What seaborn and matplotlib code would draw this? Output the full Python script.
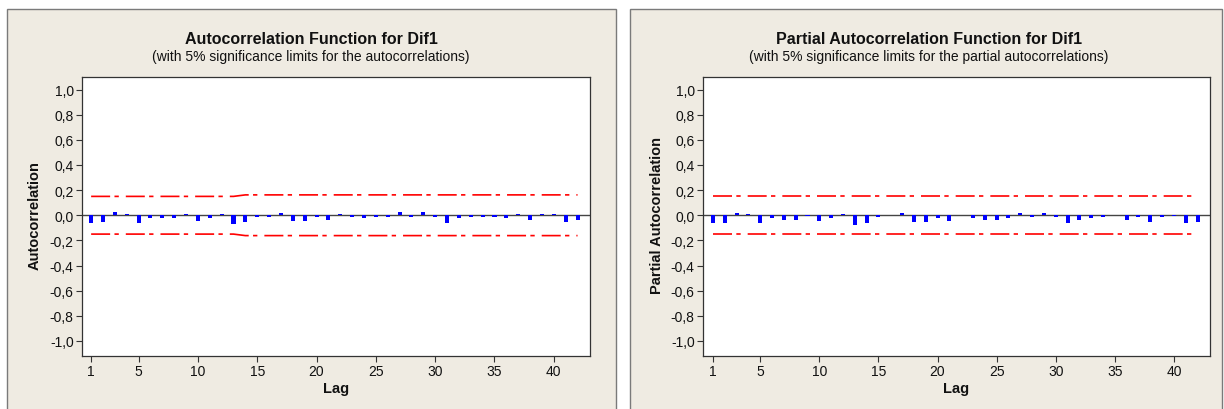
import numpy as np
import pandas as pd
import matplotlib
matplotlib.use("Agg")
import matplotlib.pyplot as plt
from matplotlib.patches import Rectangle
from matplotlib.ticker import FuncFormatter
import seaborn as sns

# values (lags 1..42)
lags = list(range(1, 43))

acf_vals = [-0.060, -0.055, 0.025, 0.010, -0.060, -0.020, -0.025, -0.025, 0.010, -0.045,
            -0.020, 0.010, -0.070, -0.055, -0.010, -0.010, 0.020, -0.045, -0.045, -0.010,
            -0.035, 0.010, -0.015, -0.025, -0.015, -0.015, 0.025, -0.015, 0.025, -0.010,
            -0.060, -0.025, -0.010, -0.010, -0.010, -0.025, 0.010, -0.035, 0.010, 0.010,
            -0.050, -0.035]

pacf_vals = [-0.060, -0.060, 0.015, 0.010, -0.060, -0.025, -0.035, -0.035, -0.003, -0.045,
             -0.025, 0.010, -0.075, -0.060, -0.015, 0.003, 0.015, -0.050, -0.050, -0.025,
             -0.045, 0.003, -0.025, -0.040, -0.035, -0.020, 0.020, -0.015, 0.020, -0.015,
             -0.065, -0.040, -0.020, -0.015, 0.003, -0.040, -0.015, -0.050, -0.015, -0.003,
             -0.060, -0.050]

# 5% significance limits (upper; lower is the negative)
acf_limit = [0.150] * 13 + [0.162] * 29
pacf_limit = [0.150] * 42

y_ticks = [-1.0, -0.8, -0.6, -0.4, -0.2, 0.0, 0.2, 0.4, 0.6, 0.8, 1.0]
x_ticks = [1, 5, 10, 15, 20, 25, 30, 35, 40]

titles = ["Autocorrelation Function for Dif1",
          "Partial Autocorrelation Function for Dif1"]
subtitles = ["(with 5% significance limits for the autocorrelations)",
             "(with 5% significance limits for the partial autocorrelations)"]
ylabels = ["Autocorrelation", "Partial Autocorrelation"]

sns.set_theme(style="white")
plt.rcParams['font.family'] = ['Liberation Sans', 'DejaVu Sans']

PANEL = "#EFEBE2"
DARK = "#333333"

fig = plt.figure(figsize=(12.24, 4.10), dpi=100)
fig.patch.set_facecolor("white")

# beige panels behind each chart
panel_boxes = [(7, 616), (630, 1222)]
for x0, x1 in panel_boxes:
    fig.patches.append(Rectangle((x0 / 1224, -0.01), (x1 - x0) / 1224, 1 - 10 / 410 + 0.01,
                                 transform=fig.transFigure, facecolor=PANEL,
                                 edgecolor="#7a7a7a", linewidth=1.0, zorder=-5))

ax_boxes = [(82, 590, 0.23), (703, 1210, 0.16)]
series = [acf_vals, pacf_vals]
limits = [acf_limit, pacf_limit]

for i, (x0, x1, xmin) in enumerate(ax_boxes):
    ax = fig.add_axes([x0 / 1224, 1 - 357 / 410, (x1 - x0) / 1224, (357 - 78) / 410])
    ax.set_facecolor("white")

    df = pd.DataFrame({"lag": lags, "val": series[i],
                       "up": limits[i], "lo": [-v for v in limits[i]]})

    ax.axhline(0, color="#444444", lw=1.0, zorder=1)
    sns.barplot(data=df, x="lag", y="val", native_scale=True, width=0.34,
                color="#0000FF", saturation=1, linewidth=0, ax=ax, zorder=2)
    for col in ["up", "lo"]:
        sns.lineplot(data=df, x="lag", y=col, color="#FF0000", lw=1.2,
                     dashes=False, ax=ax, zorder=3)
        ax.lines[-1].set_dashes([11.4, 2.6, 2.6, 4.2])

    ax.set_xlim(xmin, 43.05)
    ax.set_ylim(-1.12, 1.1)
    ax.set_yticks(y_ticks)
    ax.set_xticks(x_ticks)
    ax.yaxis.set_major_formatter(FuncFormatter(lambda v, p: f"{v:.1f}".replace(".", ",")))
    ax.tick_params(axis="both", direction="out", length=4, width=0.8, color=DARK,
                   labelsize=10, labelcolor="#111111", pad=2,
                   left=True, bottom=True)
    for s in ax.spines.values():
        s.set_color(DARK)
        s.set_linewidth(0.9)
    ax.set_xlabel("")
    ax.set_ylabel("")

    cx = (x0 + x1) / 2 / 1224
    fig.text(cx, 1 - 389 / 410, "Lag", ha="center", va="center",
             fontsize=10.5, fontweight="bold", color="#111111")
    lx = [35, 657][i] / 1224
    fig.text(lx, 1 - 216 / 410, ylabels[i], ha="center", va="center", rotation=90,
             fontsize=10.5, fontweight="bold", color="#111111")
    tx = [311, 929][i] / 1224
    fig.text(tx, 1 - 39 / 410, titles[i], ha="center", va="center",
             fontsize=11.5, fontweight="bold", color="#111111")
    fig.text(tx, 1 - 57 / 410, subtitles[i], ha="center", va="center",
             fontsize=10, color="#111111")

fig.savefig("out.png", dpi=100)
